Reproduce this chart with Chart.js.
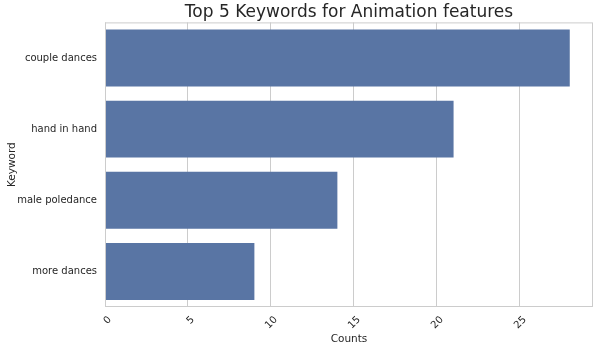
<!DOCTYPE html>
<html>
<head>
<meta charset="utf-8">
<script src="https://cdn.jsdelivr.net/npm/chart.js@4/dist/chart.umd.min.js"></script>
<style>
  html, body { margin: 0; padding: 0; background: #fff; }
  #wrap { width: 600px; height: 351px; }
</style>
</head>
<body>
<div id="wrap"><canvas id="chart"></canvas></div>
<script>
// data
const keywords = ['couple dances', 'hand in hand', 'male poledance', 'more dances'];
const counts = [28, 21, 14, 9];
const xTicks = [0, 5, 10, 15, 20, 25];

const textColor = '#262626';
const gridColor = '#cccccc';

// frame around the plot area, like the seaborn whitegrid spines
const frame = {
  id: 'frame',
  afterDraw(chart) {
    const { ctx, chartArea: a } = chart;
    ctx.save();
    ctx.strokeStyle = gridColor;
    ctx.lineWidth = 1;
    ctx.strokeRect(a.left + 0.5, a.top + 0.5, a.right - a.left - 1, a.bottom - a.top - 1);
    ctx.restore();
  }
};

new Chart(document.getElementById('chart'), {
  type: 'bar',
  data: {
    labels: keywords,
    datasets: [{
      label: 'Counts',
      data: counts,
      backgroundColor: '#5975a4',
      borderWidth: 0,
      barPercentage: 0.8,
      categoryPercentage: 1.0
    }]
  },
  options: {
    indexAxis: 'y',
    responsive: true,
    maintainAspectRatio: false,
    animation: false,
    layout: { padding: { top: 0, right: 7, bottom: 0, left: 6 } },
    plugins: {
      legend: { display: false },
      tooltip: { enabled: false },
      title: {
        display: true,
        fullSize: false,
        text: 'Top 5 Keywords for Animation features',
        color: textColor,
        font: { family: 'DejaVu Sans', size: 17, weight: 'normal' },
        padding: { top: 2, bottom: 0 }
      }
    },
    scales: {
      x: {
        type: 'linear',
        min: 0,
        max: 29.4,
        afterBuildTicks(scale) {
          scale.ticks = xTicks.map(v => ({ value: v }));
        },
        afterFit(scale) { scale.height = 44; },
        grid: { color: gridColor, drawTicks: false },
        border: { display: false },
        ticks: {
          color: textColor,
          font: { family: 'DejaVu Sans', size: 10 },
          minRotation: 45,
          maxRotation: 45,
          labelOffset: 5,
          padding: 7
        },
        title: {
          display: true,
          text: 'Counts',
          color: textColor,
          font: { family: 'DejaVu Sans', size: 10.5 },
          padding: { top: 0, bottom: 5 }
        }
      },
      y: {
        afterFit(scale) { scale.width = 99; },
        grid: { display: false, drawTicks: false },
        border: { display: false },
        ticks: {
          color: textColor,
          font: { family: 'DejaVu Sans', size: 10 },
          padding: 8
        },
        title: {
          display: true,
          text: 'Keyword',
          color: textColor,
          font: { family: 'DejaVu Sans', size: 10.5 },
          padding: { top: 0, bottom: 0 }
        }
      }
    }
  },
  plugins: [frame]
});
</script>
</body>
</html>
